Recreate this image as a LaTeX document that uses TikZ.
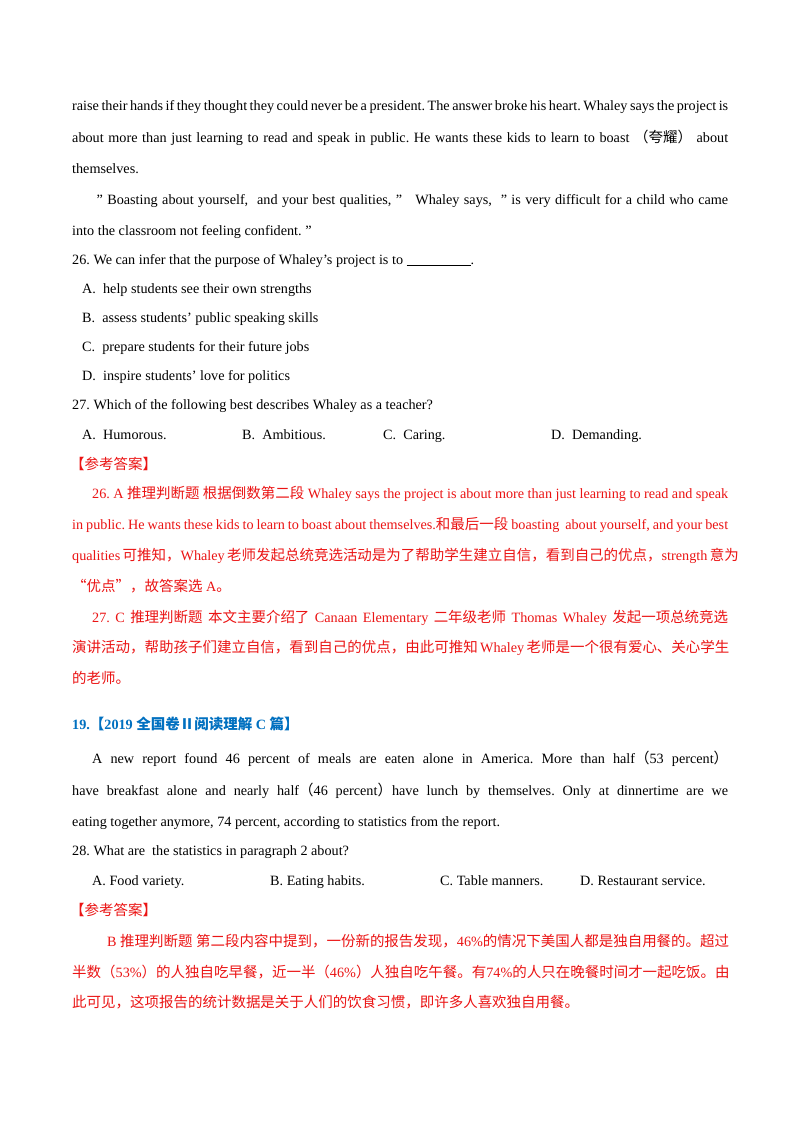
\documentclass[tikz,border=0pt]{standalone}
\usepackage{fontspec}
\setmainfont{Liberation Serif}[Ligatures=NoCommon]
\newfontfamily\cjk{Noto Sans CJK SC}[Scale=1.02]
\newcommand\zh[1]{{\cjk #1}}
\newcommand\dq{\char"0022\relax}
\definecolor{ansred}{RGB}{235,20,20}
\definecolor{hdblue}{RGB}{0,112,192}
\newcommand\jl[2]{\hbox to #1pt{#2}}
\frenchspacing
\tikzset{ln/.style={anchor=base west,inner sep=0pt,font=\fontsize{14.2}{17}\selectfont\frenchspacing},
 rd/.style={ln,text=ansred}}
\begin{document}
\begin{tikzpicture}[x=1pt,y=-1pt]
\useasboundingbox[fill=white] (0,0) rectangle (800,1132);
\node[ln] (l1) at (72,110) {\jl{656}{raise their hands if they thought they could never be a president. The answer broke his heart. Whaley says the project is}};
\node[ln] (l2) at (72,142) {\jl{656}{about more than just learning to read and speak in public. He wants these kids to learn to boast \zh{（夸耀）} about}};
\node[ln] (l3) at (72,173) {themselves.};
\node[ln] (l4) at (92,204) {\jl{636}{\ \dq\ Boasting about yourself,\ \ and your best qualities, \dq\ \ \ Whaley says,\ \ \dq\ is very difficult for a child who came}};
\node[ln] (l5) at (72,235) {into the classroom not feeling confident. \dq};
\node[ln] (q26) at (72,264) {26. We can infer that the purpose of Whaley’s project is to \underline{\hspace{64pt}}.};
\node[ln] (a26) at (82,293) {A.\ \ help students see their own strengths};
\node[ln] (b26) at (82,322) {B.\ \ assess students’ public speaking skills};
\node[ln] (c26) at (82,351) {C.\ \ prepare students for their future jobs};
\node[ln] (d26) at (82,380) {D.\ \ inspire students’ love for politics};
\node[ln] (q27) at (72,409) {27. Which of the following best describes Whaley as a teacher?};
\node[ln] (a27) at (82,439) {A.\ \ Humorous.};
\node[ln] (b27) at (242,439) {B.\ \ Ambitious.};
\node[ln] (c27) at (383,439) {C.\ \ Caring.};
\node[ln] (d27) at (551,439) {D.\ \ Demanding.};
\node[rd] (k1) at (70,469) {\zh{【参考答案】}};
\node[rd] (r1) at (92,498) {\jl{636}{26. A \zh{推理判断题} \zh{根据倒数第二段} Whaley says the project is about more than just learning to read and speak}};
\node[rd] (r2) at (72,529) {\jl{656}{in public. He wants these kids to learn to boast about themselves.\zh{和最后一段} boasting\ \ about yourself, and your best}};
\node[rd] (r3) at (72,560) {\jl{656}{qualities \zh{可推知，}Whaley \zh{老师发起总统竞选活动是为了帮助学生建立自信，看到自己的优点，}strength \zh{意为}}};
\node[rd] (r4) at (72,591) {\zh{“优点”，故答案选} A\zh{。}};
\node[rd] (r5) at (92,622) {\jl{636}{27. C \zh{推理判断题} \zh{本文主要介绍了} Canaan Elementary \zh{二年级老师} Thomas Whaley \zh{发起一项总统竞选}}};
\node[rd] (r6) at (72,652) {\jl{656}{\zh{演讲活动，帮助孩子们建立自信，看到自己的优点，由此可推知} Whaley \zh{老师是一个很有爱心、关心学生}}};
\node[rd] (r7) at (72,683) {\zh{的老师。}};
\node[ln,text=hdblue,font=\fontsize{14.2}{17}\selectfont\bfseries] (h19) at (72,729) {19.\zh{\bfseries【}2019 \zh{\bfseries 全国卷Ⅱ阅读理解} C \zh{\bfseries 篇】}};
\node[ln] (p1) at (92,763) {\jl{636}{A new report found 46 percent of meals are eaten alone in America. More than half\zh{（}53 percent\zh{）}}};
\node[ln] (p2) at (72,795) {\jl{656}{have breakfast alone and nearly half\zh{（}46 percent\zh{）}have lunch by themselves. Only at dinnertime are we}};
\node[ln] (p3) at (72,826) {eating together anymore, 74 percent, according to statistics from the report.};
\node[ln] (q28) at (72,855) {28. What are\ \ the statistics in paragraph 2 about?};
\node[ln] (a28) at (92,885) {A. Food variety.};
\node[ln] (b28) at (270,885) {B. Eating habits.};
\node[ln] (c28) at (440,885) {C. Table manners.};
\node[ln] (d28) at (580,885) {D. Restaurant service.};
\node[rd] (k2) at (70,915) {\zh{【参考答案】}};
\node[rd] (s1) at (107,946) {B \zh{推理判断题} \zh{第二段内容中提到，一份新的报告发现，}46\%\zh{的情况下美国人都是独自用餐的。超过}};
\node[rd] (s2) at (72,977) {\zh{半数（}53\%\zh{）的人独自吃早餐，近一半（}46\%\zh{）人独自吃午餐。有}74\%\zh{的人只在晚餐时间才一起吃饭。由}};
\node[rd] (s3) at (72,1007) {\zh{此可见，这项报告的统计数据是关于人们的饮食习惯，即许多人喜欢独自用餐。}};
\end{tikzpicture}
\end{document}
